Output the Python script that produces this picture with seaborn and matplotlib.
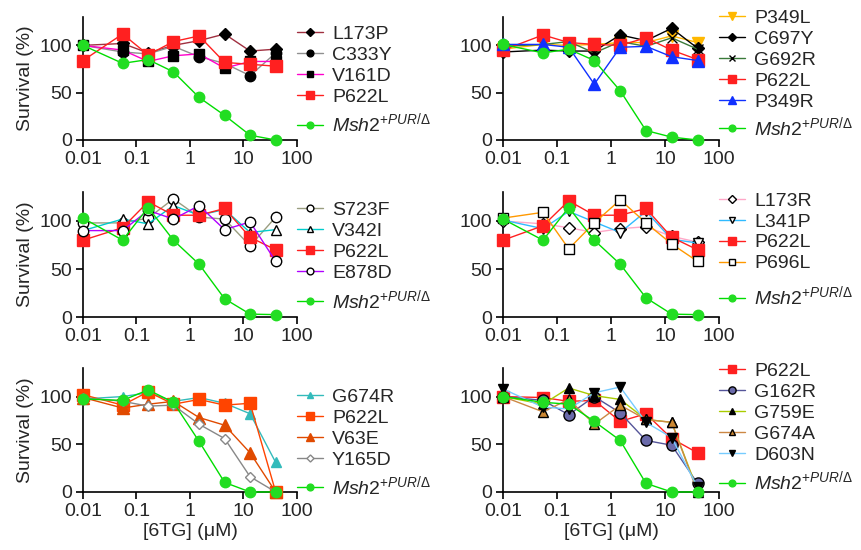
import numpy as np
import pandas as pd
import matplotlib
matplotlib.use("Agg")
import matplotlib.pyplot as plt
import seaborn as sns

sns.set_style("ticks")
plt.rcParams['font.family'] = ['Liberation Sans', 'DejaVu Sans']
plt.rcParams['mathtext.fontset'] = 'custom'
plt.rcParams['mathtext.rm'] = 'Liberation Sans'
plt.rcParams['mathtext.it'] = 'Liberation Sans:italic'
plt.rcParams['mathtext.bf'] = 'Liberation Sans:bold'

# Doses of 6TG (uM); untreated control plotted at 0.01
doses = [0.01, 0.055, 0.165, 0.49, 1.48, 4.44, 13.3, 40]

MSH2 = r"$\mathit{Msh2}^{+PUR/\Delta}$"

# ---- Panel 1 ----
p1_names = ["L173P", "C333Y", "V161D", "P622L", MSH2]
p1_L173P = [100, 102, 92, 100, 105, 112, 94, 96]
p1_C333Y = [100, 93, 91, 99, 88, 81, 68, 92]
p1_V161D = [100, 95, 83, 89, 91, 76, 83, 83]
p1_P622L = [84, 112, 90, 104, 110, 82, 80, 78]
p1_Msh2 = [100, 81, 85, 72, 45, 26, 5, 0]

# ---- Panel 2 ----
p2_names = ["P349L", "C697Y", "G692R", "P622L", "P349R", MSH2]
p2_P349L = [96, 101, 100, 101, 103, 103, 110, 103]
p2_C697Y = [93, 95, 94, 94, 111, 105, 118, 97]
p2_G692R = [99, 101, 104, 92, 104, 99, 108, 96]
p2_P622L = [95, 111, 103, 101, 100, 108, 95, 85]
p2_P349R = [101, 101, 98, 59, 98, 99, 88, 84]
p2_Msh2 = [101, 92, 96, 84, 52, 10, 3, 0]

# ---- Panel 3 ----
p3_names = ["S723F", "V342I", "P622L", "E878D", MSH2]
p3_S723F = [98, 98, 103, 123, 104, 102, 74, 104]
p3_V342I = [90, 102, 97, 116, 106, 112, 88, 91]
p3_P622L = [80, 93, 120, 106, 106, 113, 83, 70]
p3_E878D = [90, 90, 111, 102, 116, 91, 99, 58]
p3_Msh2 = [103, 80, 114, 80, 55, 19, 3, 2.5]

# ---- Panel 4 ----
p4_names = ["L173R", "L341P", "P622L", "P696L", MSH2]
p4_L173R = [100, 97, 93, 88, 92, 94, 84, 78]
p4_L341P = [101, 92, 110, 99, 88, 110, 81, 77]
p4_P622L = [80, 95, 121, 106, 106, 113, 83, 70]
p4_P696L = [103, 109, 71, 98, 122, 98, 76, 58]
p4_Msh2 = [102, 80, 114, 80, 55, 20, 3, 2.5]

# ---- Panel 5 ----
p5_names = ["G674R", "P622L", "V63E", "Y165D", MSH2]
p5_G674R = [97.5, 100, 104, 95, 99, 93, 82, 31]
p5_P622L = [102, 91, 105, 92, 97, 91, 93, 0]
p5_V63E = [99, 88, 92, 95, 78, 70, 41, 0]
p5_Y165D = [99, 95, 90, 91, 71, 56, 16, 0]
p5_Msh2 = [97.5, 96, 107, 94, 53, 10, 0, 0]

# ---- Panel 6 ----
p6_names = ["P622L", "G162R", "G759E", "G674A", "D603N", MSH2]
p6_P622L = [100, 99, 95, 96, 74, 82, 56, 41]
p6_G162R = [100, 96, 81, 100, 83, 54, 49, 9]
p6_G759E = [100, 92, 109, 101, 97, 76, 73, 2]
p6_G674A = [100, 84, 97, 71, 91, 76, 73, 0]
p6_D603N = [108, 89, 87, 104, 110, 73, 57, 5]
p6_Msh2 = [100, 94, 92, 74, 54, 9, 0, 0]

GREEN = dict(lc="#00DD00", m="o", fc="#22DD22", ec="#22DD22", ms=7.5)

# style per series: line colour, marker, face colour, edge colour, size
panels = [
    (p1_names, [p1_L173P, p1_C333Y, p1_V161D, p1_P622L, p1_Msh2], [
        dict(lc="#A03040", m="D", fc="black", ec="black", ms=6),
        dict(lc="#909090", m="o", fc="black", ec="black", ms=7.5),
        dict(lc="#FF00CC", m="s", fc="black", ec="black", ms=7.5),
        dict(lc="#FF2020", m="s", fc="#FF2020", ec="#FF2020", ms=8),
        GREEN]),
    (p2_names, [p2_P349L, p2_C697Y, p2_G692R, p2_P622L, p2_P349R, p2_Msh2], [
        dict(lc="#FFB800", m="v", fc="#FFB800", ec="#FFB800", ms=8),
        dict(lc="black", m="D", fc="black", ec="black", ms=6),
        dict(lc="#3A7A3A", m="x", fc="black", ec="black", ms=7),
        dict(lc="#FF2020", m="s", fc="#FF2020", ec="#FF2020", ms=8),
        dict(lc="#1030FF", m="^", fc="#1030FF", ec="#1030FF", ms=8),
        GREEN]),
    (p3_names, [p3_S723F, p3_V342I, p3_P622L, p3_E878D, p3_Msh2], [
        dict(lc="#9A9E80", m="o", fc="white", ec="black", ms=7.5),
        dict(lc="#00CCCC", m="^", fc="white", ec="black", ms=7.5),
        dict(lc="#FF2020", m="s", fc="#FF2020", ec="#FF2020", ms=8),
        dict(lc="#B000FF", m="o", fc="white", ec="black", ms=7.5),
        GREEN]),
    (p4_names, [p4_L173R, p4_L341P, p4_P622L, p4_P696L, p4_Msh2], [
        dict(lc="#FFA8C8", m="D", fc="white", ec="black", ms=6),
        dict(lc="#30BBFF", m="v", fc="white", ec="black", ms=7.5),
        dict(lc="#FF2020", m="s", fc="#FF2020", ec="#FF2020", ms=8),
        dict(lc="#FF9900", m="s", fc="white", ec="black", ms=7.5),
        GREEN]),
    (p5_names, [p5_G674R, p5_P622L, p5_V63E, p5_Y165D, p5_Msh2], [
        dict(lc="#33BBBB", m="^", fc="#33BBBB", ec="#33BBBB", ms=7.5),
        dict(lc="#FF4400", m="s", fc="#FF4400", ec="#FF4400", ms=8),
        dict(lc="#E04A00", m="^", fc="#E04A00", ec="#E04A00", ms=8),
        dict(lc="#888888", m="D", fc="white", ec="#888888", ms=5.5),
        GREEN]),
    (p6_names, [p6_P622L, p6_G162R, p6_G759E, p6_G674A, p6_D603N, p6_Msh2], [
        dict(lc="#FF2020", m="s", fc="#FF2020", ec="#FF2020", ms=8),
        dict(lc="#555599", m="o", fc="#6A6AAA", ec="black", ms=8),
        dict(lc="#AACC00", m="^", fc="black", ec="black", ms=7.5),
        dict(lc="#CC8844", m="^", fc="#CC8833", ec="black", ms=7.5),
        dict(lc="#77CCFF", m="v", fc="black", ec="black", ms=7.5),
        GREEN]),
]

# layout (figure fractions)
lefts = [0.0964, 0.5842]
widths = [0.2485, 0.2509]
bottoms = [0.7455, 0.4236, 0.1055]
heights = [0.2236, 0.227, 0.2255]
legend_tops = [0.933, 1.063, 0.925, 1.001, 0.835, 1.046]
msh_centers = [0.135, 0.105, 0.135, 0.165, 0.05, 0.085]

FS = 14
fig = plt.figure(figsize=(8.61, 5.5), dpi=100)
leg_kw = dict(frameon=False, fontsize=FS, handlelength=1.35,
              handletextpad=0.45, labelspacing=0.17, borderpad=0,
              borderaxespad=0, markerscale=0.65)

for i, (names, series, styles) in enumerate(panels):
    r, c = divmod(i, 2)
    ax = fig.add_axes([lefts[c], bottoms[r], widths[c], heights[r]])
    for name, vals, st in zip(names, series, styles):
        df = pd.DataFrame({"dose": doses, "surv": vals})
        sns.lineplot(data=df, x="dose", y="surv", ax=ax, estimator=None,
                     sort=False, color=st["lc"], lw=1.0, marker=st["m"],
                     markerfacecolor=st["fc"], markeredgecolor=st["ec"],
                     markeredgewidth=1.0, markersize=st["ms"],
                     label=name, clip_on=False, zorder=3)
    ax.set_xscale("log")
    ax.set_xlim(0.01, 100)
    ax.set_ylim(0, 130)
    ax.set_xticks([0.01, 0.1, 1, 10, 100])
    ax.set_xticklabels(["0.01", "0.1", "1", "10", "100"])
    ax.xaxis.set_minor_locator(matplotlib.ticker.NullLocator())
    ax.set_yticks([0, 50, 100])
    ax.tick_params(axis="both", labelsize=FS, length=5, width=1.2,
                   direction="out", color="black", pad=3)
    for s in ["top", "right"]:
        ax.spines[s].set_visible(False)
    for s in ["left", "bottom"]:
        ax.spines[s].set_linewidth(1.2)
        ax.spines[s].set_color("black")
    ax.set_ylabel("Survival (%)" if c == 0 else "", fontsize=FS, labelpad=4)
    ax.set_xlabel("[6TG] (\u03bcM)" if r == 2 else "", fontsize=FS, labelpad=2)
    handles, labels = ax.get_legend_handles_labels()
    leg1 = ax.legend(handles[:-1], labels[:-1], loc="upper left",
                     bbox_to_anchor=(1.0, legend_tops[i]), **leg_kw)
    ax.add_artist(leg1)
    ax.legend(handles[-1:], labels[-1:], loc="center left",
              bbox_to_anchor=(1.0, msh_centers[i]), **leg_kw)

fig.savefig("out.png", dpi=100)
